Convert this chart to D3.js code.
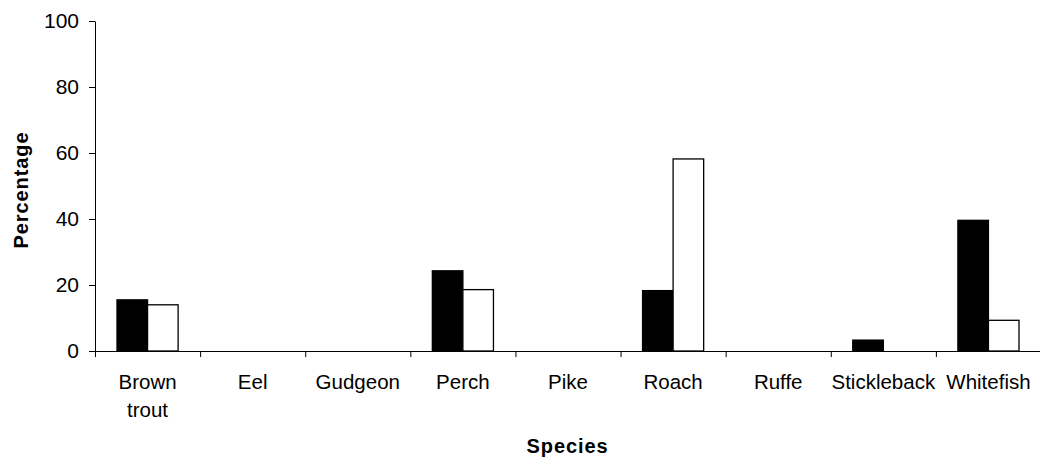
<!DOCTYPE html>
<html>
<head>
<meta charset="utf-8">
<script src="https://cdn.jsdelivr.net/npm/d3@7"></script>
<style>
  html, body { margin: 0; padding: 0; background: #fff; }
  svg { display: block; font-family: "Liberation Sans", Arial, sans-serif; }
</style>
</head>
<body>
<svg id="chart" width="1040" height="463"></svg>
<script>
const categories = ["Brown trout", "Eel", "Gudgeon", "Perch", "Pike", "Roach", "Ruffe", "Stickleback", "Whitefish"];
const seriesNames = ["Series A", "Series B"];
const seriesA = [15.5, 0, 0, 24.3, 0, 18.3, 0, 3.3, 39.6];
const seriesB = [14.0, 0, 0, 18.6, 0, 58.2, 0, 0, 9.3];
const yTicks = [0, 20, 40, 60, 80, 100];
const xTitle = "Species";
const yTitle = "Percentage";

const svg = d3.select("#chart");
const plotLeft = 95, plotRight = 1041, plotTop = 21, plotBottom = 351;

const x = d3.scaleBand().domain(categories).range([plotLeft, plotRight]).paddingInner(0).paddingOuter(0);
const x1 = d3.scaleBand().domain(seriesNames).range([0, x.bandwidth()]).paddingInner(0).paddingOuter(0.72);
const y = d3.scaleLinear().domain([0, 100]).range([plotBottom, plotTop]);

const fills = { "Series A": "#000000", "Series B": "#ffffff" };

const rows = [];
categories.forEach((c, i) => {
  rows.push({ cat: c, s: "Series A", v: seriesA[i] });
  rows.push({ cat: c, s: "Series B", v: seriesB[i] });
});

svg.append("g").selectAll("rect")
  .data(rows.filter(d => d.v > 0))
  .join("rect")
  .attr("x", d => x(d.cat) + x1(d.s))
  .attr("y", d => y(d.v))
  .attr("width", x1.bandwidth())
  .attr("height", d => y(0) - y(d.v))
  .attr("fill", d => fills[d.s])
  .attr("stroke", "#000")
  .attr("stroke-width", 1.3);

// Y axis
const yAxis = svg.append("g")
  .attr("transform", `translate(${plotLeft},0)`)
  .call(d3.axisLeft(y).tickValues(yTicks).tickSize(6).tickPadding(10).tickSizeOuter(0));
yAxis.select(".domain").attr("stroke", "#000").attr("stroke-width", 1);
yAxis.selectAll(".tick line").attr("stroke", "#000");
yAxis.selectAll(".tick text")
  .attr("font-size", "21px")
  .attr("font-family", "'Liberation Sans', Arial, sans-serif")
  .attr("fill", "#000");

// X axis: tick marks at band edges
const edgeScale = d3.scaleLinear().domain([0, categories.length]).range([plotLeft, plotRight]);
const xAxis = svg.append("g")
  .attr("transform", `translate(0,${plotBottom})`)
  .call(d3.axisBottom(edgeScale).tickValues(d3.range(categories.length + 1)).tickFormat("").tickSize(6).tickSizeOuter(0));
xAxis.select(".domain").attr("stroke", "#000").attr("stroke-width", 1);
xAxis.selectAll(".tick line").attr("stroke", "#000");

// X category labels
const labels = svg.append("g").selectAll("text")
  .data(categories)
  .join("text")
  .attr("x", d => x(d) + x.bandwidth() / 2)
  .attr("y", 389)
  .attr("text-anchor", "middle")
  .attr("font-size", "20.5px")
  .attr("fill", "#000");
labels.each(function(d) {
  const words = d.split(" ");
  const t = d3.select(this);
  words.forEach((w, i) => {
    t.append("tspan")
      .attr("x", x(d) + x.bandwidth() / 2)
      .attr("dy", i === 0 ? 0 : 28)
      .text(w);
  });
});

// Axis titles
svg.append("text")
  .attr("x", (plotLeft + 1040) / 2)
  .attr("y", 453)
  .attr("text-anchor", "middle")
  .attr("font-size", "20px")
  .attr("font-weight", "bold")
  .attr("letter-spacing", "0.9px")
  .attr("fill", "#000")
  .text(xTitle);

svg.append("text")
  .attr("transform", `translate(28,${(plotTop + plotBottom) / 2 + 4}) rotate(-90)`)
  .attr("text-anchor", "middle")
  .attr("font-size", "20px")
  .attr("font-weight", "bold")
  .attr("letter-spacing", "0.9px")
  .attr("fill", "#000")
  .text(yTitle);
</script>
</body>
</html>
